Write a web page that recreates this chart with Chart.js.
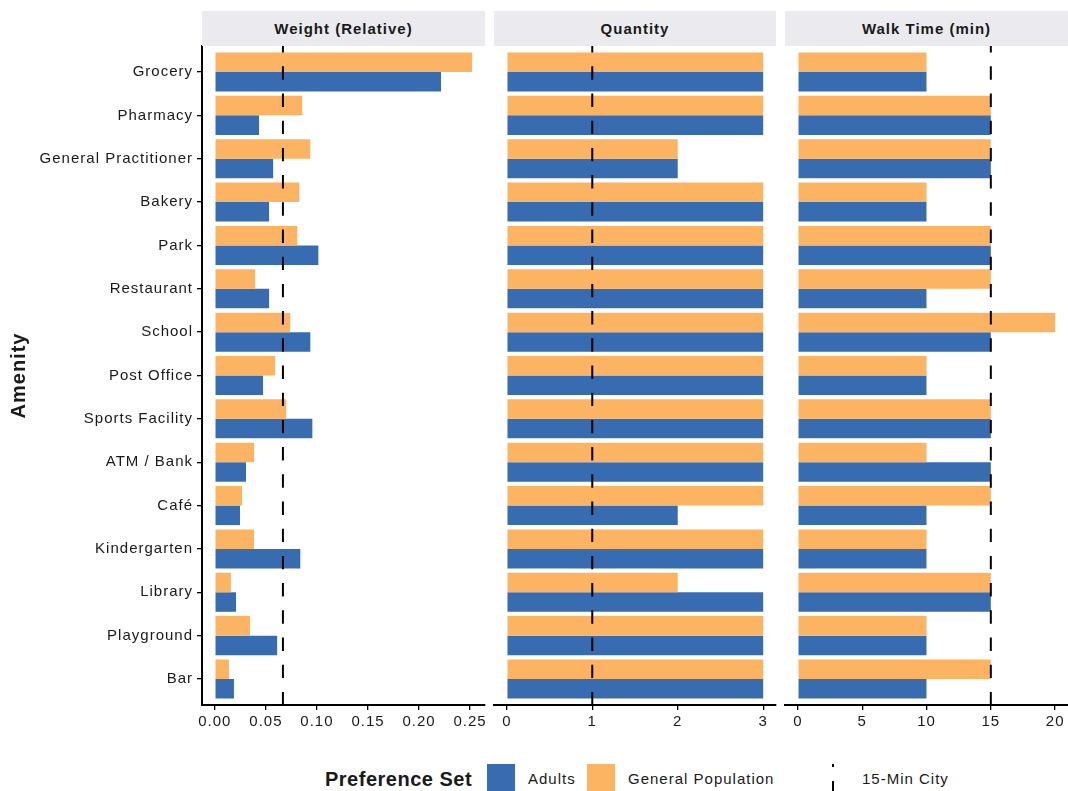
<!DOCTYPE html>
<html>
<head>
<meta charset="utf-8">
<script src="https://cdn.jsdelivr.net/npm/chart.js@4.4.0/dist/chart.umd.min.js"></script>
<style>
body { margin: 0; background: #fff; }
#wrap { position: relative; width: 1068px; height: 791px; overflow: hidden; font-family: "Liberation Sans", Arial, sans-serif; color: #1a1a1a; }
#wrap canvas { position: absolute; left: 0; top: 0; }
.strip { position: absolute; top: 11px; height: 35px; background: #EBEBEF; font-weight: bold; font-size: 15px; letter-spacing: 1px; display: flex; align-items: center; justify-content: center; }
.leg { position: absolute; top: 765px; height: 28px; line-height: 28px; font-size: 15px; letter-spacing: 1px; white-space: nowrap; }
.key { position: absolute; top: 764px; width: 28px; height: 28px; }
</style>
</head>
<body>
<div id="wrap">
	<canvas id="weightChart" width="1068" height="745"></canvas>
	<canvas id="quantityChart" width="1068" height="745"></canvas>
	<canvas id="walkChart" width="1068" height="745"></canvas>
	<div class="strip" style="left:202px;width:283px;">Weight (Relative)</div>
	<div class="strip" style="left:494px;width:282px;">Quantity</div>
	<div class="strip" style="left:785px;width:283px;">Walk Time (min)</div>
	<div class="leg" style="left:325px;font-size:20px;font-weight:bold;letter-spacing:0.5px;">Preference Set</div>
	<div class="key" style="left:487px;background:#386CB0;"></div>
	<div class="leg" style="left:528px;">Adults</div>
	<div class="key" style="left:587px;background:#FDB462;"></div>
	<div class="leg" style="left:628px;">General Population</div>
	<div class="key" style="left:832px;width:2px;background:linear-gradient(to bottom,#000 0 3px,transparent 3px 17px,#000 17px 28px);"></div>
	<div class="leg" style="left:862px;">15-Min City</div>
</div>
<script>
const amenities = ["Grocery", "Pharmacy", "General Practitioner", "Bakery", "Park", "Restaurant", "School", "Post Office", "Sports Facility", "ATM / Bank", "Café", "Kindergarten", "Library", "Playground", "Bar"];

const weightGeneral = [0.252, 0.0856, 0.0935, 0.0827, 0.0807, 0.0394, 0.0738, 0.059, 0.0699, 0.0384, 0.0266, 0.0384, 0.0157, 0.0344, 0.0138];
const weightAdults = [0.2215, 0.0433, 0.0571, 0.0531, 0.1014, 0.0531, 0.0935, 0.0472, 0.0955, 0.0305, 0.0246, 0.0837, 0.0207, 0.061, 0.0187];
const quantityGeneral = [3, 3, 2, 3, 3, 3, 3, 3, 3, 3, 3, 3, 2, 3, 3];
const quantityAdults = [3, 3, 2, 3, 3, 3, 3, 3, 3, 3, 2, 3, 3, 3, 3];
const walkGeneral = [10, 15, 15, 10, 15, 15, 20, 10, 15, 10, 15, 10, 15, 10, 15];
const walkAdults = [10, 15, 15, 10, 15, 10, 15, 10, 15, 15, 10, 10, 15, 10, 10];

const weightTicks = [0, 0.05, 0.1, 0.15, 0.2, 0.25];
const quantityTicks = [0, 1, 2, 3];
const walkTicks = [0, 5, 10, 15, 20];

// 15-minute city reference lines
const weightRef = 1 / 15;
const quantityRef = 1;
const walkRef = 15;

const FONT = "'Liberation Sans', Arial, sans-serif";
const TEXT = "#1a1a1a";

// canvas text gets a bit of tracking like the original render
const spacingPlugin = {
	id: "spacing",
	beforeUpdate(chart) { chart.ctx.letterSpacing = "1px"; },
	beforeDraw(chart) { chart.ctx.letterSpacing = "1px"; },
};

const refLinePlugin = {
	id: "refLine",
	afterDatasetsDraw(chart, args, opts) {
		const { ctx, chartArea, scales } = chart;
		const x = scales.x.getPixelForValue(opts.value);
		ctx.save();
		ctx.strokeStyle = "#000";
		ctx.lineWidth = 2;
		ctx.setLineDash([13.4, 13.8]);
		ctx.lineDashOffset = 6.9;
		ctx.beginPath();
		ctx.moveTo(x, chartArea.top);
		ctx.lineTo(x, chartArea.bottom);
		ctx.stroke();
		ctx.restore();
	},
};

function makePanel(id, general, adults, ticks, refValue, padLeft, padRight, showY, fmt) {
	// ggplot style 5% expansion of the data range
	const dataMax = Math.max(...general, ...adults);
	const ctx = document.getElementById(id).getContext("2d");
	return new Chart(ctx, {
		type: "bar",
		data: {
			datasets: [
				{
					label: "General Population",
					data: general.map((v, i) => ({ x: v, y: i })),
					backgroundColor: "#FDB462",
				},
				{
					label: "Adults",
					data: adults.map((v, i) => ({ x: v, y: i })),
					backgroundColor: "#386CB0",
				},
			],
		},
		options: {
			indexAxis: "y",
			responsive: false,
			animation: false,
			events: [],
			layout: { padding: { left: padLeft, right: padRight, top: 46, bottom: 0 } },
			datasets: { bar: { categoryPercentage: 0.9, barPercentage: 1 } },
			plugins: {
				legend: { display: false },
				tooltip: { enabled: false },
				refLine: { value: refValue },
			},
			scales: {
				x: {
					type: "linear",
					min: -0.05 * dataMax,
					max: 1.05 * dataMax,
					afterBuildTicks: (s) => { s.ticks = ticks.map((v) => ({ value: v })); },
					afterFit: (s) => { s.height = 40; },
					ticks: {
						callback: fmt,
						autoSkip: false,
						maxRotation: 0,
						padding: 3,
						color: TEXT,
						font: { family: FONT, size: 15 },
					},
					grid: { drawOnChartArea: false, drawTicks: true, tickLength: 5, color: "#000", lineWidth: 1.3 },
					border: { display: true, color: "#000", width: 2 },
				},
				y: {
					type: "linear",
					display: showY,
					reverse: true,
					offset: false,
					min: -0.6,
					max: amenities.length - 0.4,
					afterBuildTicks: (s) => { s.ticks = amenities.map((_, i) => ({ value: i })); },
					afterFit: (s) => { s.width = showY ? 202 : 0; },
					ticks: {
						callback: (v) => amenities[v],
						autoSkip: false,
						padding: 4,
						color: TEXT,
						font: { family: FONT, size: 15 },
					},
					grid: { offset: false, drawOnChartArea: false, drawTicks: true, tickLength: 5, color: "#000", lineWidth: 1.3 },
					border: { display: true, color: "#000", width: 2 },
					title: {
						display: true,
						text: "Amenity",
						color: TEXT,
						padding: { top: 7, bottom: 0 },
						font: { family: FONT, size: 20, weight: "bold" },
					},
				},
			},
		},
		plugins: [spacingPlugin, refLinePlugin],
	});
}

makePanel("weightChart", weightGeneral, weightAdults, weightTicks, weightRef, 0, 1068 - 485, true, (v) => v.toFixed(2));
makePanel("quantityChart", quantityGeneral, quantityAdults, quantityTicks, quantityRef, 494, 1068 - 776, false, (v) => String(v));
makePanel("walkChart", walkGeneral, walkAdults, walkTicks, walkRef, 785, 0, false, (v) => String(v));
</script>
</body>
</html>
